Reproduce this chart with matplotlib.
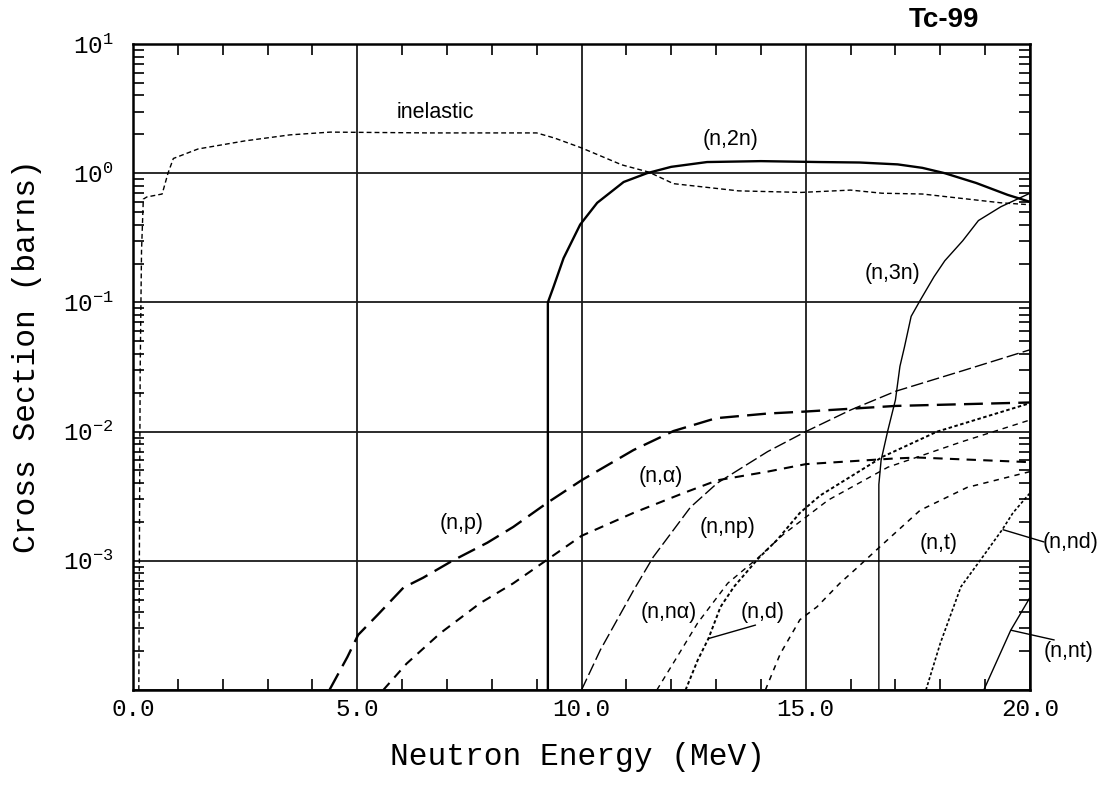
import matplotlib
matplotlib.use("Agg")
import matplotlib.pyplot as plt
from matplotlib.ticker import FixedLocator, FixedFormatter, NullFormatter

plt.rcParams['mathtext.default'] = 'regular'

MONO = ['Liberation Mono', 'DejaVu Sans Mono']
SANS = ['Liberation Sans', 'DejaVu Sans']

# ---- cross sections of Tc-99 (energy in MeV, sigma in barns) ----
inel_e = [0.13, 0.16, 0.19, 0.23, 0.31, 0.65, 0.78, 0.9, 1.45, 2.5, 3.5, 4.4,
          6.6, 9.0, 9.4, 10.0, 10.9, 11.5, 12.05, 13.5, 14.9, 16.0, 16.7,
          17.6, 18.1, 18.8, 19.35, 20.0]
inel_s = [1e-4, 0.03, 0.25, 0.63, 0.655, 0.69, 1.0, 1.3, 1.54, 1.78, 1.98, 2.08,
          2.05, 2.05, 1.87, 1.57, 1.16, 1.02, 0.83, 0.73, 0.71, 0.74, 0.70,
          0.69, 0.66, 0.62, 0.59, 0.57]

n2n_e = [9.25, 9.25, 9.37, 9.6, 9.97, 10.35, 10.94, 11.46, 12.0, 12.8, 14.0,
         15.3, 16.2, 17.05, 17.6, 18.1, 18.8, 19.5, 20.0]
n2n_s = [1e-4, 0.1, 0.13, 0.22, 0.40, 0.59, 0.855, 1.0, 1.12, 1.22, 1.24,
         1.22, 1.21, 1.17, 1.1, 1.0, 0.84, 0.68, 0.60]

n3n_e = [16.63, 16.63, 16.68, 16.83, 17.0, 17.1, 17.2, 17.35, 17.56, 17.86,
         18.1, 18.5, 18.85, 19.35, 20.0]
n3n_s = [1e-4, 0.0039, 0.006, 0.0102, 0.0176, 0.032, 0.045, 0.078, 0.105,
         0.158, 0.21, 0.30, 0.43, 0.55, 0.70]

np_e = [4.38, 4.78, 5.02, 5.45, 6.03, 6.47, 7.12, 7.9, 8.48, 9.23, 10.0,
        11.16, 12.05, 13.0, 14.15, 15.0, 17.0, 20.0]
np_s = [1e-4, 1.8e-4, 2.67e-4, 3.8e-4, 6.2e-4, 7.4e-4, 1.0e-3, 1.38e-3,
        1.83e-3, 2.8e-3, 4.2e-3, 7.2e-3, 0.0101, 0.0127, 0.0138, 0.0143,
        0.0158, 0.0168]

na_e = [5.58, 6.1, 6.85, 7.74, 8.48, 9.2, 10.0, 11.16, 12.28, 13.03, 14.15,
        15.0, 17.0, 17.5, 20.0]
na_s = [1e-4, 1.6e-4, 2.75e-4, 4.7e-4, 6.7e-4, 1.0e-3, 1.56e-3, 2.35e-3,
        3.35e-3, 4.2e-3, 4.9e-3, 5.6e-3, 6.2e-3, 6.3e-3, 5.8e-3]

nnp_e = [10.0, 10.42, 11.16, 11.6, 12.43, 13.03, 14.15, 15.0, 16.0, 17.0,
         18.5, 20.0]
nnp_s = [1e-4, 2.04e-4, 5.9e-4, 1.07e-3, 2.6e-3, 4.0e-3, 7.0e-3, 0.0100,
         0.0147, 0.0205, 0.0296, 0.043]

nna_e = [11.68, 12.13, 12.59, 13.26, 13.93, 14.5, 15.5, 16.83, 18.46, 20.0]
nna_s = [1e-4, 1.8e-4, 3.3e-4, 6.7e-4, 1.05e-3, 1.6e-3, 2.95e-3, 5.3e-3,
         8.3e-3, 0.0123]

nd_e = [12.32, 12.59, 12.83, 13.1, 13.4, 13.95, 14.36, 14.87, 15.32, 16.72,
        17.93, 20.0]
nd_s = [1e-4, 1.7e-4, 2.5e-4, 4.4e-4, 6.3e-4, 1.05e-3, 1.45e-3, 2.35e-3,
        3.2e-3, 6.4e-3, 0.01, 0.0166]

nt_e = [14.1, 14.43, 14.87, 15.25, 15.76, 16.14, 16.66, 17.55, 18.6, 20.0]
nt_s = [1e-4, 1.9e-4, 3.5e-4, 4.4e-4, 6.7e-4, 8.8e-4, 1.29e-3, 2.46e-3,
        3.7e-3, 4.9e-3]

nnd_e = [17.68, 18.0, 18.46, 18.9, 19.38, 19.62, 20.0]
nnd_s = [1e-4, 2.3e-4, 6.3e-4, 1.02e-3, 1.74e-3, 2.35e-3, 3.35e-3]

nnt_e = [18.97, 19.57, 20.0]
nnt_s = [1e-4, 2.9e-4, 5.2e-4]

x_ticks = [0, 5, 10, 15, 20]
x_ticklabels = ['0.0', '5.0', '10.0', '15.0', '20.0']
y_ticks = [1e-4, 1e-3, 1e-2, 1e-1, 1e0, 1e1]
y_ticklabels = ['', '$10^{-3}$', '$10^{-2}$', '$10^{-1}$', '$10^{0}$', '$10^{1}$']

# ---- figure ----
W, H = 1106, 789
fig = plt.figure(figsize=(W / 100, H / 100), dpi=100)
ax = fig.add_axes([133 / W, 1 - 690 / H, (1030 - 133) / W, (690 - 44) / H])
ax.set_yscale('log')
ax.set_xlim(0, 20)
ax.set_ylim(1e-4, 10)

curves = [
    (inel_e, inel_s, dict(lw=1.0, dashes=(3.5, 2.2))),
    (n2n_e, n2n_s, dict(lw=1.7)),
    (n3n_e, n3n_s, dict(lw=1.0)),
    (np_e, np_s, dict(lw=1.7, dashes=(8, 3.5))),
    (na_e, na_s, dict(lw=1.5, dashes=(4.5, 3.5))),
    (nnp_e, nnp_s, dict(lw=1.0, dashes=(9, 3))),
    (nna_e, nna_s, dict(lw=1.0, dashes=(4, 3.5))),
    (nd_e, nd_s, dict(lw=1.4, dashes=(1.8, 1.3))),
    (nt_e, nt_s, dict(lw=1.1, dashes=(3.5, 3.5))),
    (nnd_e, nnd_s, dict(lw=1.2, dashes=(1.8, 1.3))),
    (nnt_e, nnt_s, dict(lw=1.0)),
]
for e, s, st in curves:
    ax.plot(e, s, color='black', solid_capstyle='butt', zorder=3, **st)

# grid at the labelled energies and decades
ax.xaxis.set_major_locator(FixedLocator(x_ticks))
ax.xaxis.set_major_formatter(FixedFormatter(x_ticklabels))
ax.xaxis.set_minor_locator(FixedLocator(list(range(1, 20))))
ax.yaxis.set_major_locator(FixedLocator(y_ticks))
ax.yaxis.set_major_formatter(FixedFormatter(y_ticklabels))
minor_y = [m * 10.0 ** d for d in range(-4, 1) for m in range(2, 10)]
ax.yaxis.set_minor_locator(FixedLocator(minor_y))
ax.yaxis.set_minor_formatter(NullFormatter())
ax.grid(True, which='major', color='#1a1a1a', lw=1.3, zorder=1)

ax.tick_params(which='major', length=0)
ax.tick_params(axis='x', which='major', pad=6)
ax.tick_params(axis='y', which='major', pad=14)
ax.tick_params(which='minor', direction='in', length=8, width=1.2,
               top=True, bottom=True, left=True, right=True)
for lab in ax.get_xticklabels() + ax.get_yticklabels():
    lab.set_family(MONO)
    lab.set_fontsize(17.5)

for sp in ax.spines.values():
    sp.set_linewidth(1.8)

# axis titles
fig.text(578 / W, 1 - 757 / H, 'Neutron Energy (MeV)', family=MONO,
         fontsize=22.5, ha='center', va='center')
fig.text(27 / W, 1 - 356 / H, 'Cross Section (barns)', family=MONO,
         fontsize=22.5, ha='center', va='center', rotation=90)

# ---- curve labels ----
lab_kw = dict(family=SANS, fontsize=15.5, ha='center', va='center')
ax.text(6.74, 2.93, 'inelastic', **lab_kw)
ax.text(13.33, 1.81, '(n,2n)', **lab_kw)
ax.text(16.94, 0.166, '(n,3n)', **lab_kw)
ax.text(7.32, 1.93e-3, '(n,p)', **lab_kw)
ax.text(11.76, 4.5e-3, '(n,α)', **lab_kw)
ax.text(13.26, 1.8e-3, '(n,np)', **lab_kw)
ax.text(11.95, 4.0e-4, '(n,nα)', **lab_kw)
ax.text(14.04, 3.96e-4, '(n,d)', **lab_kw)
ax.text(17.97, 1.37e-3, '(n,t)', **lab_kw)
ax.text(20.9, 1.38e-3, '(n,nd)', clip_on=False, **lab_kw)
ax.text(20.85, 1.97e-4, '(n,nt)', clip_on=False, **lab_kw)

lead = dict(arrowstyle='-', lw=1.0, color='black', shrinkA=0, shrinkB=0)
ax.annotate('', xy=(12.83, 2.5e-4), xytext=(13.88, 3.18e-4),
            arrowprops=lead, annotation_clip=False)
ax.annotate('', xy=(19.4, 1.74e-3), xytext=(20.31, 1.4e-3),
            arrowprops=lead, annotation_clip=False)
ax.annotate('', xy=(19.58, 2.9e-4), xytext=(20.54, 2.44e-4),
            arrowprops=lead, annotation_clip=False)

fig.text(944 / W, 1 - 20 / H, 'Tc-99', family=SANS, fontsize=20,
         fontweight='bold', ha='center', va='center')

fig.savefig('out.png', dpi=100)
